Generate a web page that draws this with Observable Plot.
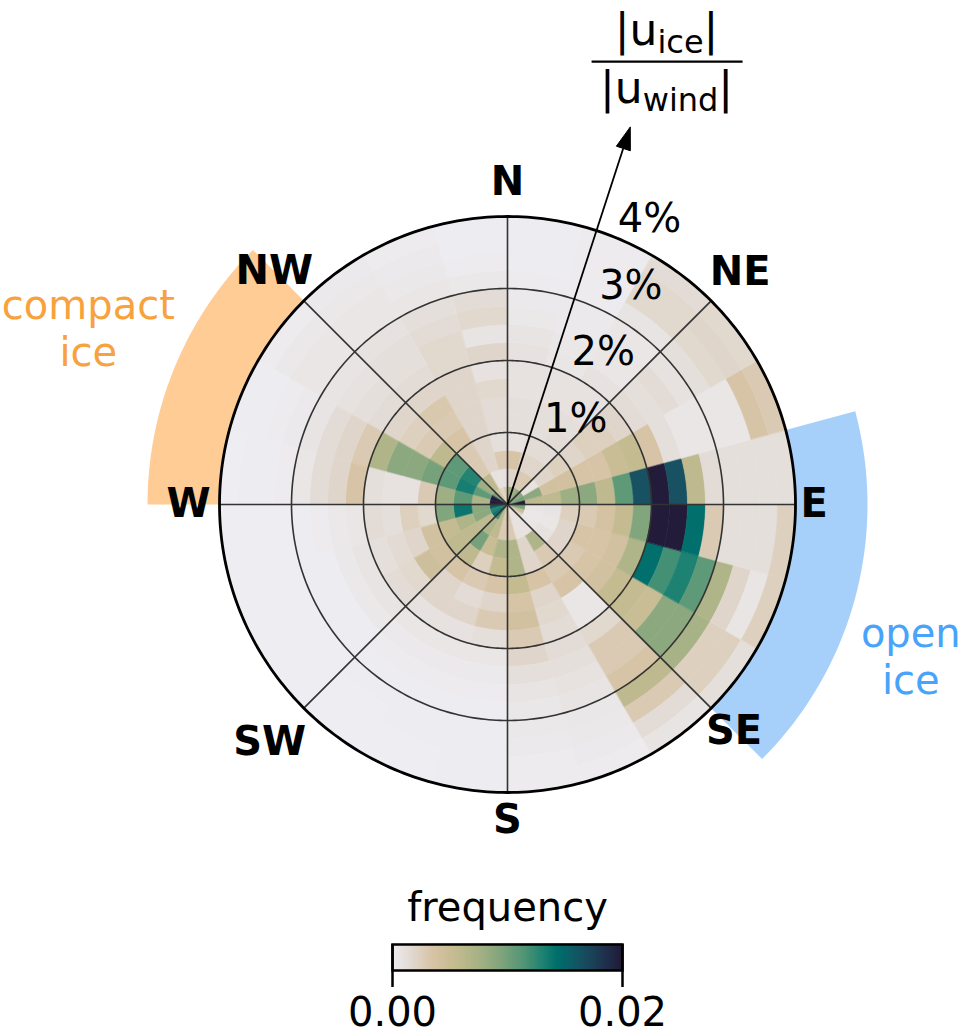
<!DOCTYPE html>
<html>
<head>
<meta charset="utf-8">
<script src="https://cdn.jsdelivr.net/npm/d3@7"></script>
<script src="https://cdn.jsdelivr.net/npm/@observablehq/plot@0.6"></script>
<style>
  html, body { margin: 0; padding: 0; background: #fff; }
  #chart { width: 959px; height: 1033px; font-family: "DejaVu Sans", sans-serif; }
  #chart svg { display: block; }
</style>
</head>
<body>
<div id="chart"></div>
<script>
// ---------------- data ----------------
// angular bins: 15° wide, counter-clockwise from East; radial bins: 0.25 % wide (0 … 4 %)
const thetaStep = 15;
const rStep = 0.25;
// frequency in units of 0.001, one row per angular bin (0–15°, 15–30°, …), 16 radial bins each
const freqPerMille = [
  [22, 6, 6, 8, 9, 6, 11, 16.5, 22, 16.5, 6, 1.5, 1.2, 1.2, 1.2, 1.2],
  [10, 9, 4, 4, 3.5, 3.5, 5, 5.5, 3.5, 1.2, 0.6, 0.6, 0.6, 0.6, 3.5, 3],
  [9, 1, 2, 2.5, 2, 2.5, 2.5, 2, 1.5, 1.2, 1.5, 1, 1.2, 1.8, 2, 1.8],
  [9, 3, 2, 1.5, 1.5, 1.2, 1, 1, 1, 0.6, 0.6, 0.6, 0.8, 1.8, 1.8, 1.5],
  [8, 3, 2, 1.5, 1.2, 1.2, 1, 1, 0.6, 0.5, 0.3, 0.3, 0.2, 0.2, 0.2, 0.2],
  [8, 2, 3.5, 1, 1.2, 1.2, 1, 1, 1, 0.8, 0.4, 0.3, 0.2, 0.1, 0.1, 0.1],
  [3, 1, 3, 1.2, 1.5, 1.5, 1.8, 1, 2, 0.8, 1.8, 1.5, 0.4, 0.2, 0.1, 0.1],
  [2, 1, 2, 2, 2, 2, 2, 2, 1.8, 1.8, 1.5, 1.2, 0.6, 0.4, 0.3, 0.2],
  [4, 6, 3, 3, 3.5, 3, 3.2, 2, 1.5, 1.2, 1.2, 1, 0.6, 0.6, 0.4, 0.3],
  [10, 8, 13, 11, 6, 3, 2.5, 2, 1.5, 1.2, 1, 0.8, 0.6, 0.6, 0.4, 0.2],
  [22, 11, 13.5, 11, 10, 9, 9, 7, 3, 2, 1.5, 0.8, 0.3, 0.2, 0.1, 0.1],
  [22, 7, 11, 8, 3, 1, 1, 1.2, 3.5, 2, 1.5, 0.6, 0.2, 0.1, 0.1, 0],
  [16, 9, 14, 9.5, 1.8, 2.5, 1.2, 1.5, 0.6, 0.4, 0.2, 0.1, 0, 0, 0, 0],
  [13, 9, 7, 5.5, 4, 2, 1.6, 1.2, 0.8, 0.4, 0.1, 0.1, 0, 0, 0, 0],
  [14, 6, 6, 6, 4, 4.5, 1.8, 1.5, 0.8, 0.4, 0.1, 0.1, 0, 0, 0, 0],
  [12, 7, 10, 6, 3.5, 2, 2, 1, 0.6, 0.3, 0.2, 0.1, 0.1, 0, 0, 0],
  [6, 6, 5, 2.5, 3, 1.5, 2, 1, 0.6, 0.3, 0.2, 0.1, 0.1, 0.1, 0, 0],
  [3, 3, 7, 5.5, 3.5, 2, 3, 1.2, 0.6, 0.3, 0.2, 0.1, 0.1, 0.1, 0.1, 0.1],
  [3, 3, 7, 7, 5.5, 3.5, 4, 3, 2, 1.2, 0.8, 0.5, 0.4, 0.3, 0.2, 0.2],
  [1, 1, 2, 2, 3.5, 2, 1.8, 1.5, 1.5, 1.2, 1, 0.8, 0.5, 0.4, 0.3, 0.2],
  [1, 1, 7, 3, 3, 3.5, 0.6, 0.6, 1.8, 3, 3, 3.5, 6, 3, 1.5, 0.8],
  [2, 0.6, 1, 2, 3, 3.5, 4, 5.5, 5.5, 5, 9, 9, 7.5, 2.5, 2.5, 1.2],
  [5, 0.5, 0.6, 2, 3.5, 3.5, 4, 7, 14.5, 12, 13.2, 11, 7, 2, 0.7, 2.5],
  [10, 0.6, 0.8, 2.5, 3, 3.8, 5.6, 9.5, 22, 22, 14.5, 3, 1.2, 1.2, 1.2, 2.5]
];
const directions = ["E", "NE", "N", "NW", "W", "SW", "S", "SE"];
const directionAngles = [0, 45, 90, 135, 180, 225, 270, 315];
const rTicks = [1, 2, 3, 4];
const rTickLabels = ["1%", "2%", "3%", "4%"];
const colorbarTicks = [0, 0.02];
const colorbarTickLabels = ["0.00", "0.02"];
const freqMax = 0.02;
// cmocean "rain"-like colormap
const rainStops = [0, 0.08, 0.18, 0.28, 0.38, 0.48, 0.58, 0.66, 0.72, 0.82, 0.92, 1];
const rainColors = ["#eeedf2", "#e2dad3", "#d6c3a5", "#c4bb90", "#a6b286", "#7fa47c", "#509476", "#1e8272",
                    "#00706c", "#175363", "#21344f", "#221b39"];
const regions = [
  {label: "compact\nice", t0: 135, t1: 180, fill: "#fecc94", text: "#f8a23e"},
  {label: "open\nice", t0: -45, t1: 15, fill: "#a6d0fa", text: "#48a3fa"}
];
const ratioLabel = {num: "ice", den: "wind"};

// ---------------- layout ----------------
const W = 959, H1 = 880, H2 = 1033 - H1;
const CX = 507, CY = 504, PX = 72;       // polar centre and px per 1 %
const rMax = 4, regionOuter = 5;
const arrowAngle = 72, arrowR = 5.51, headLen = 0.31, headHalf = 0.1;
const dirLabelR = {E: 4.26, NE: 4.57, N: 4.47, NW: 4.58, W: 4.43, SW: 4.67, S: 4.39, SE: 4.45};
const regionLabelPos = [{r: 6.32, t: 157.1}, {r: 5.98, t: -20.5}];
const deg = Math.PI / 180;
const polar = (r, t) => ({x: r * Math.cos(t * deg), y: r * Math.sin(t * deg)});

const colorScale = {type: "linear", domain: rainStops.map(s => s * freqMax), range: rainColors,
                    clamp: true, interpolate: "rgb"};

// cells as polygons
const cells = [];
freqPerMille.forEach((row, j) => row.forEach((v, i) => {
  const t0 = j * thetaStep, t1 = t0 + thetaStep, r0 = i * rStep, r1 = r0 + rStep;
  const id = j * 100 + i, n = 8;
  const pts = [];
  for (let s = 0; s <= n; s++) pts.push(polar(r1, t0 + (t1 - t0) * s / n));
  if (r0 > 0) for (let s = n; s >= 0; s--) pts.push(polar(r0, t0 + (t1 - t0) * s / n));
  else pts.push(polar(0, t0));
  pts.forEach(p => cells.push({id, v: v / 1000, ...p}));
}));

// side regions (annular sectors between 4 % and 5 %)
const regionPts = [];
regions.forEach((g, k) => {
  const n = 40;
  for (let s = 0; s <= n; s++) regionPts.push({k, fill: g.fill, ...polar(regionOuter, g.t0 + (g.t1 - g.t0) * s / n)});
  for (let s = n; s >= 0; s--) regionPts.push({k, fill: g.fill, ...polar(rMax, g.t0 + (g.t1 - g.t0) * s / n)});
});

const circlePts = rTicks.flatMap(r => d3.range(0, 361, 1).map(t => ({r, ...polar(r, t)})));
const spokes = directionAngles.map(t => ({x1: 0, y1: 0, x2: polar(rMax, t).x, y2: polar(rMax, t).y}));

const tip = polar(arrowR, arrowAngle);
const base = polar(arrowR - headLen, arrowAngle);
const perp = {x: -Math.sin(arrowAngle * deg), y: Math.cos(arrowAngle * deg)};
const head = [tip, {x: base.x + perp.x * headHalf, y: base.y + perp.y * headHalf},
              {x: base.x - perp.x * headHalf, y: base.y - perp.y * headHalf}];

const labelAngle = 67.5;

const main = Plot.plot({
  width: W, height: H1, margin: 0,
  x: {domain: [-CX / PX, (W - CX) / PX], axis: null},
  y: {domain: [-(H1 - CY) / PX, CY / PX], axis: null},
  color: colorScale,
  style: {fontFamily: "DejaVu Sans", background: "white", overflow: "visible"},
  marks: [
    Plot.line(regionPts, {x: "x", y: "y", z: "k", fill: d => d.fill, stroke: "none", curve: "linear-closed"}),
    Plot.line(cells, {x: "x", y: "y", z: "id", fill: "v", stroke: "v", strokeWidth: 0.6, curve: "linear-closed"}),
    Plot.line(circlePts.filter(d => d.r < rMax), {x: "x", y: "y", z: "r", stroke: "#333", strokeWidth: 1.6}),
    Plot.link(spokes, {x1: "x1", y1: "y1", x2: "x2", y2: "y2", stroke: "#333", strokeWidth: 1.6}),
    Plot.line(circlePts.filter(d => d.r === rMax), {x: "x", y: "y", stroke: "black", strokeWidth: 2.8}),
    Plot.text(directions, {
      x: (d, i) => polar(dirLabelR[d], directionAngles[i]).x,
      y: (d, i) => polar(dirLabelR[d], directionAngles[i]).y,
      text: d => d, fontSize: 40, fontWeight: "bold", fill: "black"
    }),
    Plot.text(rTicks, {
      x: d => polar(d, labelAngle).x, y: d => polar(d, labelAngle).y,
      text: (d, i) => rTickLabels[i], textAnchor: "start", lineAnchor: "bottom",
      fontSize: 40, fill: "black"
    }),
    Plot.link([{x1: 0, y1: 0, x2: base.x, y2: base.y}], {x1: "x1", y1: "y1", x2: "x2", y2: "y2", stroke: "black", strokeWidth: 1.8}),
    Plot.line(head, {x: "x", y: "y", fill: "black", stroke: "black", strokeWidth: 1, curve: "linear-closed"}),
    Plot.text(regions, {
      x: (d, i) => polar(regionLabelPos[i].r, regionLabelPos[i].t).x,
      y: (d, i) => polar(regionLabelPos[i].r, regionLabelPos[i].t).y,
      text: "label", fill: "text", fontSize: 40, lineHeight: 1.175
    })
  ]
});

// per-label offsets for the radial tick labels (matplotlib r-label placement)
d3.select(main).selectAll("text").filter(function() { return rTickLabels.includes(this.textContent); })
  .each(function() {
    const t = d3.select(this);
    const k = rTickLabels.indexOf(this.textContent);
    const off = k === 3 ? 0 : 9;
    const cur = t.attr("transform");
    t.attr("transform", (cur || "") + ` translate(${off},-6)`);
  });

// ratio label |u_ice| / |u_wind| above the arrow tip
{
  const sx = main.scale("x").apply(tip.x), sy = main.scale("y").apply(tip.y);
  const fx = sx + 37;
  const g = d3.select(main).append("g").attr("font-family", "DejaVu Sans").attr("fill", "black");
  const addFrac = (y, sub) => {
    const t = g.append("text").attr("x", fx).attr("y", y).attr("text-anchor", "middle");
    t.append("tspan").attr("font-size", 44).text("|u");
    t.append("tspan").attr("font-size", 32).attr("dy", 8).text(sub);
    t.append("tspan").attr("font-size", 44).attr("dy", -8).text("|");
  };
  addFrac(sy - 82, ratioLabel.num);
  g.append("line").attr("x1", fx - 75).attr("x2", fx + 76).attr("y1", sy - 65).attr("y2", sy - 65)
    .attr("stroke", "black").attr("stroke-width", 2.2);
  addFrac(sy - 24, ratioLabel.den);
}

// colour bar
const gradSteps = 230;
const gradient = d3.range(gradSteps).map(i => ({a: i / gradSteps * freqMax, b: (i + 1) / gradSteps * freqMax, m: (i + 0.5) / gradSteps * freqMax}));
const cbar = Plot.plot({
  width: W, height: H2,
  marginLeft: 392, marginRight: W - 622, marginTop: 64, marginBottom: H2 - 90,
  x: {domain: [0, freqMax], axis: null},
  color: colorScale,
  style: {fontFamily: "DejaVu Sans", background: "white", overflow: "visible"},
  marks: [
    Plot.rect(gradient, {x1: "a", x2: "b", fill: "m", stroke: "m", strokeWidth: 0.6}),
    Plot.tickX(colorbarTicks, {x: d => d, stroke: "black", strokeWidth: 2.5, insetBottom: -17}),
    Plot.frame({stroke: "black", strokeWidth: 2.5}),
    Plot.text(["frequency"], {frameAnchor: "top", dy: -24, lineAnchor: "bottom", fontSize: 40, fill: "black"}),
    Plot.text(colorbarTicks, {x: d => d, text: (d, i) => colorbarTickLabels[i], frameAnchor: "bottom", dy: 55,
                              lineAnchor: "bottom", fontSize: 40, fill: "black"})
  ]
});

document.getElementById("chart").append(main, cbar);
</script>
</body>
</html>
